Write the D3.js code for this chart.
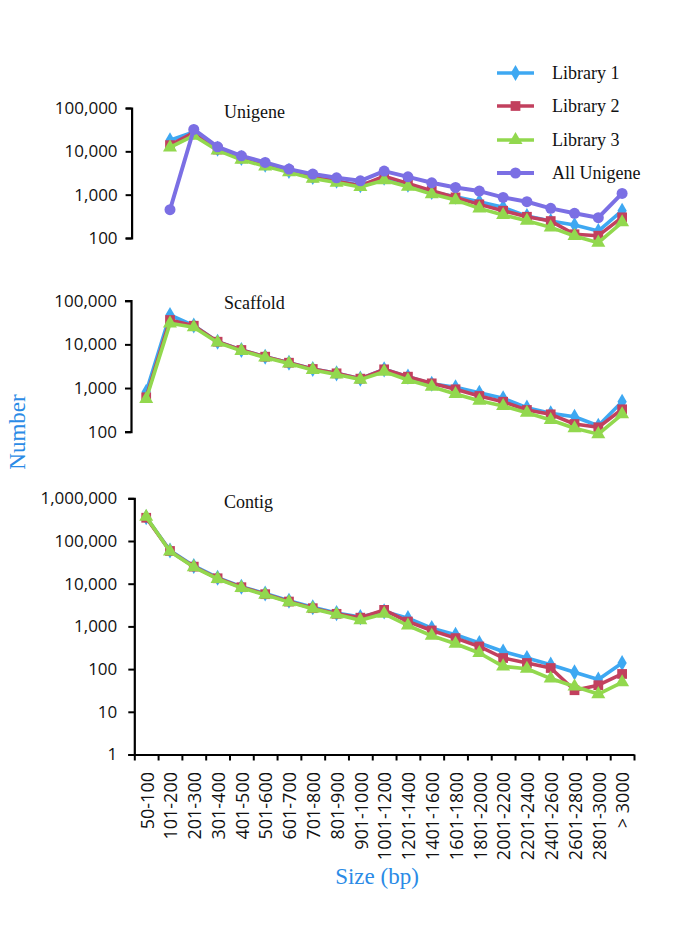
<!DOCTYPE html>
<html>
<head>
<meta charset="utf-8">
<script src="https://cdn.jsdelivr.net/npm/d3@7/dist/d3.min.js"></script>
<style>
  html, body { margin: 0; padding: 0; background: #fff; }
  svg { display: block; }
</style>
</head>
<body>
<div id="chart"></div>
<script>
// ---------------- DATA ----------------
const categories = ["50-100","101-200","201-300","301-400","401-500","501-600","601-700","701-800","801-900","901-1000","1001-1200","1201-1400","1401-1600","1601-1800","1801-2000","2001-2200","2201-2400","2401-2600","2601-2800","2801-3000","> 3000"];

const seriesNames = ["Library 1", "Library 2", "Library 3", "All Unigene"];

// Unigene panel
const unigeneLib1 = [null, 18000, 28000, 11500, 7000, 4900, 3550, 2550, 2100, 1650, 2450, 1700, 1150, 900, 690, 510, 320, 246, 199, 145, 426];
const unigeneLib2 = [null, 13900, 27000, 11000, 6900, 4800, 3500, 2500, 2050, 1600, 2680, 1820, 1230, 865, 597, 426, 309, 246, 122, 113, 300];
const unigeneLib3 = [null, 12300, 23000, 10500, 6400, 4500, 3300, 2350, 1900, 1500, 2160, 1520, 1030, 750, 483, 339, 251, 176, 111, 78, 230];
const unigeneAll  = [null, 450, 32000, 12700, 7870, 5550, 3890, 2985, 2450, 2090, 3500, 2580, 1880, 1470, 1210, 866, 687, 483, 371, 294, 1070];

// Scaffold panel
const scaffoldLib1 = [824, 47000, 27000, 11500, 7430, 5220, 3800, 2730, 2170, 1640, 2680, 1820, 1250, 1040, 781, 581, 355, 263, 220, 137, 486];
const scaffoldLib2 = [614, 36100, 26700, 11500, 7430, 5220, 3800, 2730, 2170, 1640, 2680, 1820, 1280, 935, 657, 486, 314, 250, 150, 126, 326];
const scaffoldLib3 = [561, 30300, 24600, 11000, 7100, 5000, 3650, 2600, 2050, 1560, 2370, 1530, 1070, 730, 513, 388, 272, 185, 120, 88, 250];

// Contig panel
const contigLib1 = [360000, 60000, 26000, 13800, 8500, 5900, 4000, 2800, 2050, 1650, 2250, 1560, 912, 636, 407, 259, 182, 127, 84, 57, 139];
const contigLib2 = [350000, 58400, 25100, 13400, 8280, 5680, 3820, 2670, 1970, 1600, 2440, 1300, 803, 532, 339, 182, 139, 106, 32, 42, 77];
const contigLib3 = [370000, 57000, 24500, 13000, 8000, 5500, 3700, 2600, 1900, 1400, 1970, 1050, 603, 392, 238, 116, 102, 60, 39, 26, 49];

const ticksSmall = [100, 1000, 10000, 100000];
const ticksContig = [1, 10, 100, 1000, 10000, 100000, 1000000];

const panelTitles = ["Unigene", "Scaffold", "Contig"];
const xTitle = "Size (bp)";
const yTitle = "Number";

// ---------------- STYLE ----------------
const colors = {"Library 1": "#3EA8F2", "Library 2": "#C2405E", "Library 3": "#92D84E", "All Unigene": "#7B6FE4"};
const symbols = {"Library 1": d3.symbolDiamond, "Library 2": d3.symbolSquare, "Library 3": d3.symbolTriangle, "All Unigene": d3.symbolCircle};
const symSizes = {"Library 1": 75, "Library 2": 95, "Library 3": 85, "All Unigene": 95};
const lineW = {"Library 1": 3.6, "Library 2": 3.6, "Library 3": 3.6, "All Unigene": 4};
const serif = "'Liberation Serif', 'Times New Roman', serif";
const sans = "'Open Sans', 'DejaVu Sans', sans-serif";
const blue = "#2B8BE6";

const W = 685, H = 938;
const svg = d3.select("#chart").append("svg").attr("width", W).attr("height", H)
  .style("background", "#fff");

const x = d3.scaleBand().domain(categories).range([134.3, 634]).paddingInner(0).paddingOuter(0);
const cx = c => x(c) + x.bandwidth() / 2;

const panels = [
  { title: panelTitles[0], axisX: 131.6, y: d3.scaleLog().domain([100, 100000]).range([238, 108]), ticks: ticksSmall, titleY: 118,
    series: [["Library 1", unigeneLib1], ["Library 2", unigeneLib2], ["Library 3", unigeneLib3], ["All Unigene", unigeneAll]] },
  { title: panelTitles[1], axisX: 131, y: d3.scaleLog().domain([100, 100000]).range([431.7, 300.7]), ticks: ticksSmall, titleY: 309,
    series: [["Library 1", scaffoldLib1], ["Library 2", scaffoldLib2], ["Library 3", scaffoldLib3]] },
  { title: panelTitles[2], axisX: 134.3, y: d3.scaleLog().domain([1, 1000000]).range([754.5, 498.3]), ticks: ticksContig, titleY: 508,
    series: [["Library 1", contigLib1], ["Library 2", contigLib2], ["Library 3", contigLib3]] }
];

panels.forEach(p => {
  const g = svg.append("g");
  const yAxis = d3.axisLeft(p.y).tickValues(p.ticks).tickFormat(d3.format(",")).tickSizeOuter(0).tickSize(6)
    .tickPadding(p.axisX > 133 ? 11 : 8);
  const ga = g.append("g").attr("transform", `translate(${p.axisX},0)`).call(yAxis);
  ga.select(".domain").attr("stroke", "#000").attr("stroke-width", 2.2);
  ga.selectAll(".tick line").attr("stroke", "#000").attr("stroke-width", 2);
  ga.selectAll(".tick text").attr("font-family", sans).attr("font-size", 17).attr("fill", "#111");

  g.append("text").attr("x", 224).attr("y", p.titleY).text(p.title)
    .attr("font-family", serif).attr("font-size", 18).attr("fill", "#111");

  p.series.forEach(([name, vals]) => {
    const pts = categories.map((c, i) => ({c, v: vals[i]})).filter(d => d.v != null);
    const line = d3.line().x(d => cx(d.c)).y(d => p.y(d.v));
    g.append("path").datum(pts).attr("d", line).attr("fill", "none")
      .attr("stroke", colors[name]).attr("stroke-width", lineW[name]).attr("stroke-linejoin", "round");
    g.selectAll(null).data(pts).join("path")
      .attr("transform", d => `translate(${cx(d.c)},${p.y(d.v)})`)
      .attr("d", d3.symbol().type(symbols[name]).size(symSizes[name]))
      .attr("fill", colors[name]);
  });
});

// x axis (bottom panel) with boundary ticks
const xb = d3.scaleLinear().domain([0, categories.length]).range([134.3, 634]);
const gx = svg.append("g").attr("transform", "translate(0,754.5)")
  .call(d3.axisBottom(xb).tickValues(d3.range(0, categories.length + 1)).tickFormat("").tickSize(6).tickSizeOuter(0));
gx.select(".domain").attr("stroke", "#000").attr("stroke-width", 2.2);
gx.selectAll(".tick line").attr("stroke", "#000").attr("stroke-width", 2);

// category labels, rotated
svg.append("g").selectAll("text").data(categories).join("text")
  .attr("transform", d => `translate(${cx(d) + 1},772) rotate(-90)`)
  .attr("text-anchor", "end").attr("dy", "0.35em")
  .attr("font-family", sans).attr("font-size", 18).attr("fill", "#111")
  .text(d => d);

// axis titles
svg.append("text").attr("x", 377).attr("y", 884).attr("text-anchor", "middle")
  .attr("font-family", serif).attr("font-size", 23).attr("fill", blue).text(xTitle);
svg.append("text").attr("transform", "translate(25,432) rotate(-90)").attr("text-anchor", "middle")
  .attr("font-family", serif).attr("font-size", 23).attr("fill", blue).text(yTitle);

// legend
const legRows = [73, 106, 140, 173];
const lg = svg.append("g");
seriesNames.forEach((name, i) => {
  const y = legRows[i];
  lg.append("line").attr("x1", 497).attr("x2", 534).attr("y1", y).attr("y2", y)
    .attr("stroke", colors[name]).attr("stroke-width", lineW[name]);
  lg.append("path").attr("transform", `translate(515.5,${y})`)
    .attr("d", d3.symbol().type(symbols[name]).size(symSizes[name])).attr("fill", colors[name]);
  lg.append("text").attr("x", 552).attr("y", y).attr("dy", "0.35em")
    .attr("font-family", serif).attr("font-size", 18).attr("fill", "#111").text(name);
});
</script>
</body>
</html>
